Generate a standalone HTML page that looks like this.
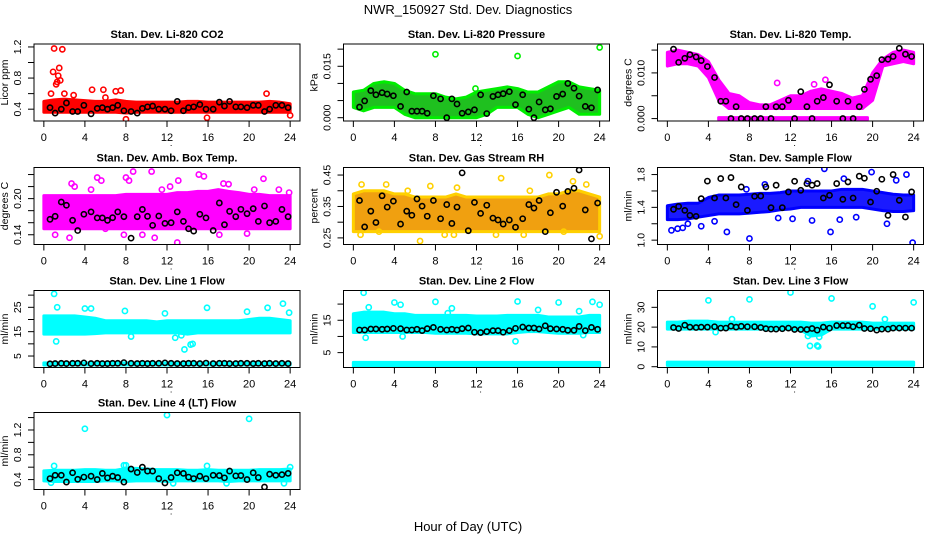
<!DOCTYPE html>
<html><head><meta charset="utf-8"><style>
html,body{margin:0;padding:0;background:#fff;}
svg{display:block;font-family:"Liberation Sans",Arial,sans-serif;}
</style></head><body>
<svg id="chart" width="936" height="540" viewBox="0 0 936 540">
<rect width="936" height="540" fill="#fff"/>
<text x="468" y="14" text-anchor="middle" font-size="13">NWR_150927  Std. Dev. Diagnostics</text>
<text x="468" y="531" text-anchor="middle" font-size="13">Hour of Day (UTC)</text>
</svg>
<script>
// shared
const hours = [0,1,2,3,4,5,6,7,8,9,10,11,12,13,14,15,16,17,18,19,20,21,22,23,24];
const blackTimes = [0.6,1.1,1.7,2.2,2.8,3.3,3.9,4.6,5.2,5.7,6.2,6.7,7.2,7.8,8.5,9.1,9.6,10.1,10.6,11.2,11.8,12.4,13.0,13.6,14.1,14.6,15.2,15.8,16.5,17.1,17.6,18.1,18.7,19.2,19.8,20.4,20.9,21.5,22.0,22.6,23.2,23.8];
const xTicks = [0,4,8,12,16,20,24];

// Panel 1 CO2
const co2Lo = [0.36,0.36,0.36,0.36,0.36,0.36,0.36,0.36,0.35,0.36,0.36,0.36,0.36,0.36,0.36,0.36,0.36,0.36,0.36,0.36,0.36,0.36,0.36,0.36,0.36];
const co2Hi = [0.5,0.52,0.53,0.52,0.51,0.5,0.5,0.52,0.5,0.49,0.49,0.49,0.49,0.49,0.5,0.5,0.49,0.49,0.49,0.49,0.49,0.49,0.5,0.49,0.47];
const co2OutX = [1.0,1.8,1.5,0.9,1.4,1.3,1.2,0.7,2.0,4.7,5.8,7.0,7.5,21.7,8.0,15.9,24.0,1.6,2.9,6.0];
const co2OutY = [1.18,1.17,0.93,0.88,0.83,0.75,0.72,0.6,0.6,0.65,0.65,0.63,0.64,0.6,0.27,0.29,0.32,0.77,0.58,0.55];
const co2Black = [0.42,0.35,0.40,0.48,0.37,0.37,0.45,0.34,0.41,0.42,0.40,0.42,0.45,0.38,0.37,0.35,0.41,0.43,0.44,0.40,0.40,0.38,0.50,0.38,0.42,0.43,0.46,0.40,0.40,0.49,0.44,0.50,0.43,0.43,0.42,0.45,0.45,0.37,0.40,0.45,0.45,0.42];

// Panel 2 Pressure
const presLo = [0.003,0.002,0.003,0.003,0.003,0.001,0,0,0,0,0,0,0,0.001,0.003,0.003,0.003,0.001,0,0.001,0.002,0.003,0.001,0.001,0.001];
const presHi = [0.0075,0.008,0.010,0.0105,0.010,0.008,0.007,0.007,0.007,0.006,0.0055,0.006,0.0075,0.008,0.0085,0.009,0.0085,0.0075,0.0075,0.009,0.0105,0.0105,0.009,0.0085,0.008];
const presOutX = [8.0,16.0,24.0,11.9];
const presOutY = [0.0185,0.018,0.0205,0.0085];
const presBlack = [0.0031,0.0049,0.0079,0.0067,0.0073,0.0069,0.0064,0.0033,0.0075,0.0019,0.0019,0.0019,0.0013,0.0064,0.0055,0,0.0055,0.004,0.0013,0.0017,0.0023,0.0067,0.0012,0.0062,0.0067,0.007,0.0076,0.0038,0.0067,0.0025,0,0.0046,0.0023,0.0026,0.0062,0.0069,0.01,0.0086,0.0063,0.0033,0.0029,0.0081];

// Panel 3 Temp
const tempLo = [0.0115,0.012,0.012,0.0115,0.009,0.004,0.0022,0.0022,0.0022,0.0022,0.0022,0.0022,0.0022,0.0022,0.0022,0.0022,0.0022,0.0022,0.0022,0.0022,0.004,0.0115,0.012,0.0125,0.012];
const tempHi = [0.0145,0.015,0.0145,0.014,0.0125,0.0085,0.0055,0.005,0.0035,0.003,0.003,0.004,0.005,0.005,0.006,0.0065,0.006,0.0055,0.0045,0.005,0.010,0.013,0.0145,0.015,0.0145];
const tempZeroX = [5,19.5];
const tempZeroLo = [-0.0002,-0.0002];
const tempZeroHi = [0.0002,0.0002];
const tempOutX = [10.7,15.4,14.3];
const tempOutY = [0.0078,0.0085,0.0075];
const tempBlack = [0.0152,0.0123,0.0132,0.014,0.0135,0.0127,0.0114,0.009,0.0038,0.0038,0,0.0026,0,0,0,0,0.0026,0,0.0026,0.0026,0.004,0,0.0059,0.0026,0,0.0038,0.0046,0.0074,0.0038,0,0.0038,0,0.0026,0.0064,0.0086,0.0094,0.0129,0.013,0.0136,0.0154,0.0141,0.0136];

// Panel 4 Amb box temp
const ambLo = [0.15,0.15,0.15,0.15,0.15,0.15,0.15,0.15,0.15,0.15,0.15,0.15,0.15,0.15,0.15,0.15,0.15,0.15,0.15,0.15,0.15,0.15,0.15,0.15,0.15];
const ambHi = [0.205,0.205,0.205,0.205,0.205,0.205,0.205,0.205,0.207,0.207,0.207,0.207,0.207,0.21,0.21,0.212,0.212,0.215,0.212,0.21,0.207,0.207,0.205,0.205,0.205];
const ambOutX = [1.1,2.5,2.7,3.0,4.6,5.2,5.6,7.8,8.0,8.3,9.6,10.5,10.8,11.5,13.0,13.1,15.1,15.6,17.1,17.5,18.0,19.8,21.4,22.9,23.9,0.5,6.0,8.7,20.5,12.3];
const ambOutY = [0.14,0.135,0.225,0.22,0.215,0.235,0.23,0.14,0.235,0.23,0.14,0.245,0.135,0.215,0.127,0.23,0.24,0.237,0.14,0.225,0.224,0.142,0.233,0.215,0.21,0.155,0.15,0.245,0.215,0.22];
const ambBlack = [0.1656,0.1706,0.1944,0.189,0.164,0.147,0.174,0.178,0.168,0.168,0.164,0.1683,0.178,0.1700,0.1344,0.17,0.182,0.1706,0.1556,0.1711,0.1589,0.16,0.178,0.1622,0.15,0.1461,0.174,0.168,0.147,0.1928,0.1567,0.1789,0.17,0.1822,0.175,0.1833,0.1622,0.1878,0.16,0.1622,0.182,0.17];

// Panel 5 RH
const rhLo = [0.27,0.27,0.27,0.27,0.27,0.27,0.27,0.27,0.27,0.27,0.27,0.27,0.27,0.27,0.27,0.27,0.27,0.27,0.27,0.27,0.27,0.27,0.27,0.27,0.27];
const rhHi = [0.39,0.4,0.4,0.4,0.39,0.39,0.38,0.38,0.38,0.38,0.39,0.38,0.38,0.38,0.38,0.38,0.38,0.38,0.38,0.39,0.39,0.4,0.4,0.39,0.38];
const rhOutX = [0.8,3.2,7.5,6.5,0.7,14.4,19.1,21.4,22.7,24.0,8.9,9.8,16.6,13.9,20.5,10.1,2.5,5.3,17.2];
const rhOutY = [0.42,0.42,0.415,0.24,0.26,0.44,0.45,0.43,0.42,0.255,0.26,0.26,0.26,0.26,0.27,0.41,0.27,0.40,0.40];
const rhBlack = [0.369,0.285,0.335,0.299,0.384,0.348,0.367,0.294,0.335,0.322,0.374,0.351,0.319,0.369,0.311,0.356,0.296,0.348,0.457,0.273,0.363,0.328,0.354,0.313,0.307,0.294,0.307,0.284,0.311,0.356,0.345,0.369,0.270,0.330,0.395,0.351,0.398,0.408,0.466,0.339,0.247,0.361];

// Panel 6 Sample flow
const sfLo = [1.25,1.25,1.26,1.28,1.3,1.32,1.32,1.32,1.33,1.34,1.35,1.37,1.38,1.4,1.4,1.4,1.4,1.4,1.4,1.4,1.38,1.36,1.35,1.35,1.36];
const sfHi = [1.42,1.44,1.45,1.45,1.52,1.55,1.55,1.55,1.56,1.57,1.57,1.58,1.6,1.6,1.6,1.6,1.6,1.62,1.62,1.62,1.6,1.58,1.56,1.55,1.55];
const sfOutX = [0.4,1.0,1.5,2.0,3.3,5.8,8.0,15.9,23.9,15.3,19.9,23.3,21.4,17.2,22.3,13.7,9.5,7.7,18.4,10.8,12.2,14.1,16.8,4.6];
const sfOutY = [1.12,1.14,1.15,1.2,1.17,1.1,1.02,1.1,0.97,1.87,1.83,1.8,1.2,1.75,1.73,1.72,1.68,1.62,1.28,1.27,1.26,1.24,1.25,1.23];
const sfBlack = [1.376,1.412,1.363,1.302,1.29,1.506,1.72,1.514,1.751,1.514,1.763,1.433,1.649,1.363,1.535,1.539,1.649,1.396,1.67,1.396,1.588,1.718,1.608,1.69,1.67,1.69,1.514,1.547,1.69,1.498,1.71,1.514,1.78,1.755,1.465,1.596,1.743,1.302,1.8,1.486,1.282,1.588];

// Panel 7 Line 1
const l1Lo = [14,14,14,14,14,14.2,14.5,14.5,14.5,14.5,14.5,14.5,14.5,14.5,14,14.5,14.5,14.5,14.5,14.5,14.5,14.5,14.5,14.5,14.5];
const l1Hi = [21.5,21.5,21.5,21.5,21,20.5,19.5,19.5,19.5,19.5,19.5,19,19.5,19.5,19.5,19.5,19.5,19.5,19.5,19.5,20,20.5,20.5,20,19.5];
const l1RowLo = [1.3,1.3,1.3,1.3,1.3,1.3,1.3,1.3,1.3,1.3,1.3,1.3,1.3,1.3,1.3,1.3,1.3,1.3,1.3,1.3,1.3,1.3,1.3,1.3,1.3];
const l1RowHi = [2.2,2.2,2.2,2.2,2.2,2.2,2.2,2.2,2.2,2.2,2.2,2.2,2.2,2.2,2.2,2.2,2.2,2.2,2.2,2.2,2.2,2.2,2.2,2.2,2.2];
const l1OutX = [1.0,1.3,1.2,4.0,4.6,7.9,11.8,15.9,19.8,21.8,23.3,23.9,12.8,13.7,14.3,14.5,8.5,13.4];
const l1OutY = [30.5,25,11,24.5,24.5,23.5,22.5,24.8,23.2,24.8,26.5,22.8,12.5,7.7,9.7,10,13,13.5];
const l1Black = [1.8,1.9,2.0,1.9,2.0,2.0,2.2,1.9,2.0,1.9,1.9,2.0,2.0,2.3,2.0,1.9,2.0,1.9,2.0,2.0,2.2,2.0,1.9,1.9,2.0,2.0,1.9,2.1,1.9,2.0,2.0,1.9,1.9,2.0,2.0,1.9,2.0,1.9,2.0,1.9,2.0,1.9];

// Panel 8 Line 2
const l2Lo = [11.2,11.2,11.2,11.2,11.2,11.2,11.2,11.2,11,11,11,11,10.8,10.8,10.8,10.8,11.2,11.5,11.5,11.2,11,11,11,11.2,11.2];
const l2Hi = [17,17.5,17.5,17.5,17,17,16.5,16.5,16.5,16.5,16.5,16.5,16.3,16.3,16.3,16.5,16.5,16.5,16.5,16,16,16,16,16.5,16.5];
const l2RowLo = [0.8,0.8,0.8,0.8,0.8,0.8,0.8,0.8,0.8,0.8,0.8,0.8,0.8,0.8,0.8,0.8,0.8,0.8,0.8,0.8,0.8,0.8,0.8,0.8,0.8];
const l2RowHi = [2.0,2.0,2.0,2.0,2.0,2.0,2.0,2.0,2.0,2.0,2.0,2.0,2.0,2.0,2.0,2.0,2.0,2.0,2.0,2.0,2.0,2.0,2.0,2.0,2.0];
const l2OutX = [1.0,1.5,0.5,1.2,4.0,4.6,4.8,8.0,9.6,16.0,20.0,23.3,24.0,19.0,15.8,22.0,22.4,9.2,18.0];
const l2OutY = [23.5,19,14.5,9.6,20.5,19.8,10,20.7,18.7,20.8,20.5,20.7,19.8,12,8.5,17.8,10.4,17.2,18.2];
const l2Black = [12,12,12.3,12.3,12.2,12.3,12.5,12.4,12,12,12.2,11.8,12.4,12.8,12.2,12,12.2,12,12.4,12.6,11.3,11.2,11.5,11.8,11.8,11.3,11.8,12.5,12.9,12.6,12.6,12.3,13.3,12.4,12.3,12.2,11.9,11.9,13.1,11.8,12.8,12.2];

// Panel 9 Line 3
const l3Lo = [19,19,19,19,19,19,19,19,19,19,19,19,19,18.5,15.5,16,19,19,19,19,19,19,19,19,19];
const l3Hi = [22.5,22.5,23,23,23,22.5,22.5,22.5,22.5,22.5,22.5,22.5,22.5,22.5,22,22,22.5,22.5,22.5,22.5,22,22,22,22,22];
const l3RowLo = [0.7,0.7,0.7,0.7,0.7,0.7,0.7,0.7,0.7,0.7,0.7,0.7,0.7,0.7,0.7,0.7,0.7,0.7,0.7,0.7,0.7,0.7,0.7,0.7,0.7];
const l3RowHi = [2.3,2.3,2.3,2.3,2.3,2.3,2.3,2.3,2.3,2.3,2.3,2.3,2.3,2.3,2.3,2.3,2.3,2.3,2.3,2.3,2.3,2.3,2.3,2.3,2.3];
const l3OutX = [4.0,8.0,12.0,16.0,20.0,24.0,13.9,14.6,14.7,14.8,21.2,4.7,6.3,13.7];
const l3OutY = [33.5,34,37.5,34.5,30.5,32.5,10.5,10.7,10.2,15,24,17.5,24,15.5];
const l3Black = [19.8,19.3,21,20,19.8,20,20,20.2,19.5,19.5,20.5,20,20.4,20.2,20.2,19.8,19.2,19,19,19.2,19.5,18.8,18.8,18.8,19.3,18.5,20,19.5,20.8,20.8,20.8,20.2,21,19.3,19.2,18.5,19,19,19.5,19.5,19.5,19.5];

// Panel 10 Line 4
const l4Lo = [0.38,0.37,0.37,0.37,0.37,0.37,0.38,0.38,0.37,0.38,0.38,0.38,0.37,0.38,0.38,0.38,0.38,0.38,0.37,0.38,0.38,0.38,0.38,0.38,0.38];
const l4Hi = [0.54,0.55,0.55,0.55,0.56,0.56,0.55,0.55,0.58,0.58,0.57,0.56,0.56,0.56,0.55,0.55,0.56,0.55,0.55,0.55,0.55,0.56,0.56,0.56,0.57];
const l4OutX = [4.0,12.0,20.0,1.0,8.0,7.8,15.9,24.0,0.7,12.6,17.8,23.4];
const l4OutY = [1.22,1.44,1.38,0.62,0.63,0.63,0.62,0.6,0.35,0.34,0.34,0.34];
const l4Black = [0.416,0.47,0.47,0.36,0.51,0.405,0.44,0.455,0.4,0.5,0.428,0.455,0.433,0.36,0.57,0.515,0.6,0.537,0.537,0.416,0.345,0.433,0.51,0.5,0.44,0.416,0.455,0.416,0.47,0.465,0.428,0.537,0.46,0.465,0.4,0.51,0.433,0.28,0.487,0.47,0.48,0.5];

const NS = 'http://www.w3.org/2000/svg';
const svg = document.getElementById('chart');
function mk(tag, attrs, parent){
  const e = document.createElementNS(NS, tag);
  for (const k in attrs) e.setAttribute(k, attrs[k]);
  (parent||svg).appendChild(e);
  return e;
}

const panels = [
 {key:'co2', title:'Stan. Dev. Li-820 CO2', ylab:'Licor ppm', col:0,row:0, ymin:0.248,ymax:1.238, yt:[0.4,0.6,0.8,1.0,1.2], yl:['0.4','0.8','1.2'], ylv:[0.4,0.8,1.2], fill:'#ff0000', stroke:'#ff0000', bands:[[hours,co2Lo,co2Hi]], ox:co2OutX, oy:co2OutY, bk:co2Black},
 {key:'pressure', title:'Stan. Dev. Li-820 Pressure', ylab:'kPa', col:1,row:0, ymin:-0.00096,ymax:0.0215, yt:[0,0.005,0.01,0.015,0.02], yl:['0.000','0.015'], ylv:[0,0.015], fill:'#1fc01f', stroke:'#00ee00', bands:[[hours,presLo,presHi]], ox:presOutX, oy:presOutY, bk:presBlack},
 {key:'temp', title:'Stan. Dev. Li-820 Temp.', ylab:'degrees C', col:2,row:0, ymin:-0.00053,ymax:0.01633, yt:[0,0.005,0.01,0.015], yl:['0.000','0.010'], ylv:[0,0.01], fill:'#ff00ff', stroke:'#ff00ff', bands:[[hours,tempLo,tempHi],[tempZeroX,tempZeroLo,tempZeroHi]], ox:tempOutX, oy:tempOutY, bk:tempBlack},
 {key:'amb-box', title:'Stan. Dev. Amb. Box Temp.', ylab:'degrees C', col:0,row:1, ymin:0.1238,ymax:0.2517, yt:[0.14,0.16,0.18,0.2,0.22,0.24], yl:['0.14','0.20'], ylv:[0.14,0.2], fill:'#ff00ff', stroke:'#ff00ff', bands:[[hours,ambLo,ambHi]], ox:ambOutX, oy:ambOutY, bk:ambBlack},
 {key:'rh', title:'Stan. Dev. Gas Stream RH', ylab:'percent', col:1,row:1, ymin:0.229,ymax:0.474, yt:[0.25,0.3,0.35,0.4,0.45], yl:['0.25','0.35','0.45'], ylv:[0.25,0.35,0.45], fill:'#f0a010', stroke:'#ffd000', bands:[[hours,rhLo,rhHi]], ox:rhOutX, oy:rhOutY, bk:rhBlack},
 {key:'sample-flow', title:'Stan. Dev. Sample Flow', ylab:'ml/min', col:2,row:1, ymin:0.947,ymax:1.886, yt:[1.0,1.2,1.4,1.6,1.8], yl:['1.0','1.4','1.8'], ylv:[1.0,1.4,1.8], fill:'#1a1aff', stroke:'#0000ff', bands:[[hours,sfLo,sfHi]], ox:sfOutX, oy:sfOutY, bk:sfBlack},
 {key:'line1', title:'Stan. Dev. Line 1 Flow', ylab:'ml/min', col:0,row:2, ymin:0.29,ymax:31.9, yt:[5,10,15,20,25,30], yl:['5','15','25'], ylv:[5,15,25], fill:'#00ffff', stroke:'#00ffff', bands:[[hours,l1Lo,l1Hi],[hours,l1RowLo,l1RowHi]], ox:l1OutX, oy:l1OutY, bk:l1Black},
 {key:'line2', title:'Stan. Dev. Line 2 Flow', ylab:'ml/min', col:1,row:2, ymin:0.4,ymax:24.2, yt:[5,10,15,20], yl:['5','15'], ylv:[5,15], fill:'#00ffff', stroke:'#00ffff', bands:[[hours,l2Lo,l2Hi],[hours,l2RowLo,l2RowHi]], ox:l2OutX, oy:l2OutY, bk:l2Black},
 {key:'line3', title:'Stan. Dev. Line 3 Flow', ylab:'ml/min', col:2,row:2, ymin:-0.4,ymax:38.5, yt:[0,10,20,30], yl:['0','10','20','30'], ylv:[0,10,20,30], fill:'#00ffff', stroke:'#00ffff', bands:[[hours,l3Lo,l3Hi],[hours,l3RowLo,l3RowHi]], ox:l3OutX, oy:l3OutY, bk:l3Black},
 {key:'line4', title:'Stan. Dev. Line 4 (LT) Flow', ylab:'ml/min', col:0,row:3, ymin:0.24,ymax:1.482, yt:[0.4,0.6,0.8,1.0,1.2,1.4], yl:['0.4','0.8','1.2'], ylv:[0.4,0.8,1.2], fill:'#00ffff', stroke:'#00ffff', bands:[[hours,l4Lo,l4Hi]], ox:l4OutX, oy:l4OutY, bk:l4Black}
];

const colL = [34, 343.5, 657.5];
const rowT = [44, 167.5, 290.5, 412.5];
const W = 266, H = 77;

panels.forEach(p => {
  const L = colL[p.col], T = rowT[p.row], B = T + H, R = L + W;
  const xs = h => L + (h + 0.96) / 25.92 * W;
  const ys = v => B - (v - p.ymin) / (p.ymax - p.ymin) * H;
  const g = mk('g', {});
  
  
  const cp = mk('clipPath', {id: 'clip-' + p.key}, g);
  mk('rect', {x: L, y: T, width: W, height: H}, cp);
  const t = mk('text', {x: (L + R) / 2, y: T - 6, 'text-anchor': 'middle', 'font-size': 11, 'font-weight': 'bold'}, g);
  t.textContent = p.title;
  
  
  const data = mk('g', {'clip-path': 'url(#clip-' + p.key + ')'}, g);
  p.bands.forEach(b => {
    const [bx, lo, hi] = b;
    let pts = [];
    for (let i = 0; i < bx.length; i++) pts.push(xs(bx[i]) + ',' + ys(hi[i]));
    for (let i = bx.length - 1; i >= 0; i--) pts.push(xs(bx[i]) + ',' + ys(lo[i]));
    const poly = mk('polygon', {points: pts.join(' '), fill: p.fill, stroke: p.stroke, 'stroke-width': 3, 'stroke-linejoin': 'round'}, data);
    
    
  });
  p.ox.forEach((x, i) => {
    const c = mk('circle', {cx: xs(x), cy: ys(p.oy[i]), r: 2.6, fill: 'none', stroke: p.stroke, 'stroke-width': 1.6}, data);
    
    
  });
  blackTimes.forEach((x, i) => {
    const c = mk('circle', {cx: xs(x), cy: ys(p.bk[i]), r: 2.6, fill: 'none', stroke: '#000', 'stroke-width': 1.6}, data);
    
    
  });
  const box = mk('rect', {x: L, y: T, width: W, height: H, fill: 'none', stroke: '#000', 'stroke-width': 1}, g);
  
  
  const xa = mk('g', {}, g);
  
  
  mk('line', {x1: xs(0), x2: xs(24), y1: B, y2: B, stroke: '#000'}, xa);
  xTicks.forEach(h => {
    mk('line', {x1: xs(h), x2: xs(h), y1: B, y2: B + 6, stroke: '#000'}, xa);
    const tl = mk('text', {x: xs(h), y: B + 20, 'text-anchor': 'middle', 'font-size': 11}, xa);
    tl.textContent = h;
    
    
  });
  const dot = mk('text', {x: xs(12.4), y: B + 25, 'text-anchor': 'middle', 'font-size': 9}, xa);
  dot.textContent = '.';
  const ya = mk('g', {}, g);
  
  
  mk('line', {x1: L, x2: L, y1: ys(p.yt[0]), y2: ys(p.yt[p.yt.length - 1]), stroke: '#000'}, ya);
  p.yt.forEach(v => mk('line', {x1: L - 6, x2: L, y1: ys(v), y2: ys(v), stroke: '#000'}, ya));
  p.ylv.forEach((v, i) => {
    const tl = mk('text', {x: L - 13, y: ys(v), 'text-anchor': 'middle', 'font-size': 10.5, transform: 'rotate(-90 ' + (L - 13) + ' ' + ys(v) + ')'}, ya);
    tl.textContent = p.yl[i];
    
    
  });
  const yt = mk('text', {x: L - 26, y: (T + B) / 2, 'text-anchor': 'middle', 'font-size': 10.5, transform: 'rotate(-90 ' + (L - 26) + ' ' + ((T + B) / 2) + ')'}, ya);
  yt.textContent = p.ylab;
  
  
});
</script>
</body></html>
